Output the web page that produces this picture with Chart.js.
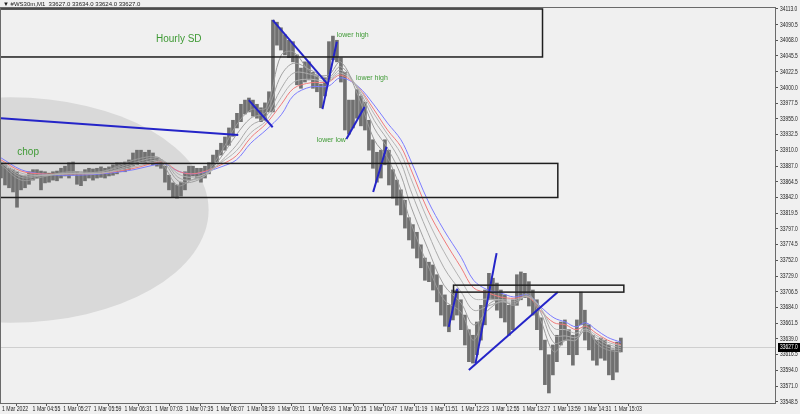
<!DOCTYPE html>
<html>
<head>
<meta charset="utf-8">
<style>
    html, body { margin: 0; padding: 0; background: #f0f0f0; overflow: hidden; }
    #wrap { position: relative; width: 800px; height: 414px; }
</style>
<script src="https://cdn.jsdelivr.net/npm/chart.js@4.4.0/dist/chart.umd.min.js"></script>
</head>
<body>
<div id="wrap"><canvas id="chart" width="800" height="414"></canvas></div>
<script>
(function() {
    'use strict';

    // Price bars, minutes from 04:23
    var BAR_STEP = 4.18;
    var barHighs = [
        33892,33889,33884,33882,33879,33874,33873,33879,33882,33882,
        33880,33879,33877,33879,33880,33884,33887,33892,33893,33879,
        33876,33882,33884,33883,33884,33886,33884,33886,33889,33892,
        33892,33893,33896,33906,33910,33910,33907,33910,33906,33899,
        33896,33887,33874,33863,33860,33864,33879,33887,33887,33884,
        33884,33887,33892,33903,33910,33920,33929,33942,33953,33963,
        33976,33982,33985,33982,33976,33971,33978,33994,34097,34094,
        34086,34076,34068,34066,34047,34028,34037,34037,34022,34017,
        34005,34014,34066,34074,34068,34043,34022,33982,33982,33997,
        33988,33979,33953,33925,33907,33910,33925,33910,33882,33867,
        33853,33838,33813,33803,33792,33774,33755,33749,33745,33731,
        33716,33702,33687,33709,33709,33695,33673,33652,33644,33663,
        33687,33709,33733,33726,33719,33709,33702,33687,33695,33731,
        33735,33733,33721,33709,33695,33669,33637,33616,33630,33644,
        33663,33666,33652,33644,33666,33706,33680,33659,33644,33637,
        33640,33637,33630,33623,33634,33640
    ];
    var barLows = [
        33870,33860,33856,33850,33828,33853,33856,33861,33867,33870,
        33853,33863,33864,33867,33866,33870,33873,33870,33874,33861,
        33859,33866,33870,33867,33870,33871,33870,33873,33874,33876,
        33879,33879,33882,33887,33889,33893,33890,33893,33889,33887,
        33884,33864,33853,33843,33841,33844,33853,33867,33873,33870,
        33864,33870,33876,33884,33893,33903,33910,33917,33930,33942,
        33951,33962,33965,33959,33956,33951,33953,33965,33965,34061,
        34054,34047,34043,34037,34004,33999,34008,34011,33999,33994,
        33971,33988,34011,34040,34037,34008,33939,33933,33942,33956,
        33945,33939,33910,33884,33864,33870,33889,33860,33841,33831,
        33817,33798,33781,33769,33755,33741,33723,33721,33709,33692,
        33673,33657,33649,33666,33673,33652,33630,33606,33604,33616,
        33637,33659,33695,33695,33680,33669,33663,33644,33652,33687,
        33695,33698,33686,33673,33652,33623,33573,33561,33587,33606,
        33630,33637,33616,33601,33616,33659,33637,33623,33608,33601,
        33611,33608,33587,33580,33591,33620
    ];

    // Moving average ribbon (minutes from 04:23)
    var maTimes = [0,21,42,70,105,139,164,172,185,199,214,230,246,261,277,293,306,324,342,355,
                   373,390,404,418,428,446,463,481,494,509,522,536,551,564,578,590,601,611,622,634,648];
    var maBlue = [33899,33882,33876,33874,33876,33882,33890,33890,33880,33876,33879,33886,33896,33920,33939,
                  33961,33989,34001,34002,34014,34002,33975,33949,33925,33896,33838,33795,33756,33723,33709,
                  33705,33699,33702,33685,33669,33663,33656,33662,33652,33641,33634];
    var maRed = [33896,33880,33876,33876,33877,33884,33893,33892,33880,33876,33880,33889,33902,33928,33948,
                 33976,33999,34007,34008,34018,34001,33968,33939,33915,33884,33824,33781,33741,33712,33705,
                 33699,33697,33699,33679,33662,33659,33652,33657,33647,33637,33630];
    var maGray1 = [33889,33867,33871,33879,33879,33896,33900,33884,33859,33867,33877,33907,33946,33968,33971,
                   34047,34051,34022,34018,34037,33989,33925,33899,33853,33807,33745,33695,33677,33637,33687,
                   33695,33687,33705,33666,33620,33637,33637,33659,33633,33623,33620];
    var maGray2 = [33892,33871,33873,33877,33879,33892,33899,33890,33866,33864,33874,33900,33932,33956,33965,
                   34018,34035,34025,34014,34030,33997,33942,33913,33874,33831,33769,33716,33690,33659,33680,
                   33692,33689,33702,33677,33633,33637,33637,33652,33637,33627,33623];
    var maGray3 = [33893,33874,33874,33877,33877,33889,33896,33893,33871,33867,33874,33894,33917,33945,33958,
                   33999,34021,34019,34011,34025,33999,33953,33925,33892,33853,33792,33741,33706,33680,33686,
                   33692,33692,33700,33683,33644,33643,33641,33650,33641,33631,33626];
    var maGray4 = [33894,33877,33874,33876,33877,33886,33894,33893,33876,33871,33876,33892,33909,33935,33952,
                   33986,34008,34012,34009,34021,34001,33962,33933,33905,33871,33810,33764,33723,33697,33696,
                   33695,33695,33699,33683,33654,33652,33647,33653,33644,33634,33629];

    // Axis labels
    var yTicks = [34113.0,34090.5,34068.0,34045.5,34022.5,34000.0,33977.5,33955.0,33932.5,33910.0,33887.0,
                  33864.5,33842.0,33819.5,33797.0,33774.5,33752.0,33729.0,33706.5,33684.0,33661.5,33639.0,
                  33616.5,33594.0,33571.0,33548.5];
    var timeLabels = ['1 Mar 2022','1 Mar 04:55','1 Mar 05:27','1 Mar 05:59','1 Mar 06:31','1 Mar 07:03',
                      '1 Mar 07:35','1 Mar 08:07','1 Mar 08:39','1 Mar 09:11','1 Mar 09:43','1 Mar 10:15',
                      '1 Mar 10:47','1 Mar 11:19','1 Mar 11:51','1 Mar 12:23','1 Mar 12:55','1 Mar 13:27',
                      '1 Mar 13:59','1 Mar 14:31','1 Mar 15:03'];
    var LABEL_STEP = 32;
    var titleText = '\u25BC #WS30m,M1  33627.0 33634.0 33624.0 33627.0';
    var lastPrice = 33627.0;

    // Drawn objects: [t1, p1, t2, p2]
    var trendLines = [
        [0, 33956, 248, 33932],
        [259, 33982, 284, 33943],
        [284, 34097, 342, 34004],
        [336, 33969, 351, 34066],
        [361, 33926, 380, 33972],
        [389, 33850, 403, 33915],
        [468, 33656, 477, 33711],
        [496, 33604, 518, 33762],
        [489, 33594, 582, 33706]
    ];
    // [t1, t2, priceTop, priceBottom]
    var zones = [
        [-10, 566, 34113, 34044],
        [-10, 582, 33891, 33842],
        [473, 651, 33716, 33706]
    ];
    // [text, t, price]
    var bigNotes = [['Hourly SD', 162, 34069], ['chop', 17, 33907]];
    var smallNotes = [['lower high', 351, 34076], ['lower high', 371, 34014], ['lower low', 330, 33924]];
    // [t, price, radius t, radius price]
    var chopEllipse = [10, 33824, 207, 162];

    var GREEN = '#3f9a35';
    var AXIS_FONT = '7px "Liberation Sans", Arial, sans-serif';

    var bars = barHighs.map(function(h, i) {
        return { x: i * BAR_STEP, y: [barLows[i], h] };
    });

    function maSeries(values) {
        return values.map(function(v, i) { return { x: maTimes[i], y: v }; });
    }

    function maDataset(values, color) {
        return {
            type: 'line',
            data: maSeries(values),
            borderColor: color,
            borderWidth: 1,
            pointRadius: 0,
            tension: 0.35,
            order: 2
        };
    }

    // Narrow pixel-like axis text
    function narrowText(ctx, text, x, y, squeeze) {
        ctx.save();
        ctx.translate(x, y);
        ctx.scale(squeeze, 1);
        ctx.fillText(text, 0, 0);
        ctx.restore();
    }

    var datasets = [{
        type: 'bar',
        data: bars,
        backgroundColor: '#707070',
        barThickness: 3,
        grouped: false,
        order: 5
    }];

    datasets.push(maDataset(maGray4, '#b4b4b4'));
    datasets.push(maDataset(maGray3, '#aaaaaa'));
    datasets.push(maDataset(maGray2, '#a0a0a0'));
    datasets.push(maDataset(maGray1, '#999999'));
    datasets.push(maDataset(maRed, '#f07a7a'));
    datasets.push(maDataset(maBlue, '#7c7cff'));

    trendLines.forEach(function(l) {
        datasets.push({
            type: 'line',
            data: [{ x: l[0], y: l[1] }, { x: l[2], y: l[3] }],
            borderColor: '#2424c8',
            borderWidth: 2,
            pointRadius: 0,
            tension: 0,
            order: 1
        });
    });

    // Background drawings (ellipse, price line)
    var backPlugin = {
        id: 'back',
        beforeDatasetsDraw: function(chart) {
            var ctx = chart.ctx, a = chart.chartArea;
            var xs = chart.scales.x, ys = chart.scales.y;
            ctx.save();
            ctx.beginPath();
            ctx.rect(a.left, a.top, a.right - a.left, a.bottom - a.top);
            ctx.clip();

            var cx = xs.getPixelForValue(chopEllipse[0]);
            var cy = ys.getPixelForValue(chopEllipse[1]);
            var rx = xs.getPixelForValue(chopEllipse[0] + chopEllipse[2]) - cx;
            var ry = cy - ys.getPixelForValue(chopEllipse[1] + chopEllipse[3]);
            ctx.fillStyle = '#d9d9d9';
            ctx.beginPath();
            ctx.ellipse(cx, cy, rx, ry, 0, 0, Math.PI * 2);
            ctx.fill();

            var py = Math.round(ys.getPixelForValue(lastPrice)) + 0.5;
            ctx.strokeStyle = '#cfcfcf';
            ctx.lineWidth = 1;
            ctx.beginPath();
            ctx.moveTo(a.left, py);
            ctx.lineTo(a.right, py);
            ctx.stroke();
            ctx.restore();
        }
    };

    // Foreground drawings (zones, notes, frame, axis text, price tag, title)
    var frontPlugin = {
        id: 'front',
        afterDatasetsDraw: function(chart) {
            var ctx = chart.ctx, a = chart.chartArea;
            var xs = chart.scales.x, ys = chart.scales.y;
            ctx.save();
            ctx.beginPath();
            ctx.rect(a.left, a.top, a.right - a.left, a.bottom - a.top);
            ctx.clip();

            ctx.strokeStyle = '#1e1e1e';
            ctx.lineWidth = 1.5;
            zones.forEach(function(z) {
                var x1 = xs.getPixelForValue(z[0]), x2 = xs.getPixelForValue(z[1]);
                var y1 = ys.getPixelForValue(z[2]), y2 = ys.getPixelForValue(z[3]);
                ctx.strokeRect(x1, y1, x2 - x1, y2 - y1);
            });

            ctx.fillStyle = GREEN;
            ctx.textAlign = 'left';
            ctx.textBaseline = 'middle';
            ctx.font = '10px "Liberation Sans", Arial, sans-serif';
            bigNotes.forEach(function(n) {
                ctx.fillText(n[0], xs.getPixelForValue(n[1]), ys.getPixelForValue(n[2]));
            });
            ctx.font = '7px "Liberation Sans", Arial, sans-serif';
            smallNotes.forEach(function(n) {
                ctx.fillText(n[0], xs.getPixelForValue(n[1]), ys.getPixelForValue(n[2]));
            });
            ctx.restore();
        },
        afterDraw: function(chart) {
            var ctx = chart.ctx, a = chart.chartArea;
            var xs = chart.scales.x, ys = chart.scales.y;
            ctx.save();
            ctx.strokeStyle = '#6a6a6a';
            ctx.lineWidth = 1;
            ctx.strokeRect(a.left - 0.5, a.top - 0.5, a.right - a.left + 1, a.bottom - a.top + 1);

            // axis labels
            ctx.fillStyle = '#222222';
            ctx.font = AXIS_FONT;
            ctx.textAlign = 'left';
            ctx.textBaseline = 'middle';
            xs.ticks.forEach(function(t) {
                var label = timeLabels[Math.round(t.value / LABEL_STEP)];
                narrowText(ctx, label, xs.getPixelForValue(t.value) + 1, a.bottom + 6.5, 0.74);
            });
            ys.ticks.forEach(function(t) {
                narrowText(ctx, t.value.toFixed(1), a.right + 5, ys.getPixelForValue(t.value), 0.7);
            });

            // last price tag
            var py = Math.round(ys.getPixelForValue(lastPrice));
            ctx.fillStyle = '#000000';
            ctx.fillRect(a.right + 3, py - 4, 800 - a.right - 3, 9);
            ctx.fillStyle = '#ffffff';
            narrowText(ctx, lastPrice.toFixed(1), a.right + 5, py + 0.5, 0.7);

            ctx.fillStyle = '#202020';
            ctx.font = '6px "Liberation Sans", Arial, sans-serif';
            ctx.fillText(titleText, 3, 4);
            ctx.restore();
        }
    };

    new Chart(document.getElementById('chart'), {
        type: 'bar',
        data: { datasets: datasets },
        plugins: [backPlugin, frontPlugin],
        options: {
            responsive: false,
            animation: false,
            devicePixelRatio: 1,
            events: [],
            layout: { padding: { top: 8, left: 1, right: 0, bottom: 0 } },
            plugins: { legend: { display: false }, tooltip: { enabled: false } },
            scales: {
                x: {
                    type: 'linear',
                    min: 0,
                    max: 809,
                    offset: false,
                    afterFit: function(s) { s.height = 11; },
                    afterBuildTicks: function(s) {
                        s.ticks = timeLabels.map(function(t, i) { return { value: i * LABEL_STEP }; });
                    },
                    grid: { drawOnChartArea: false, tickLength: 3, color: '#555555' },
                    border: { color: '#555555' },
                    ticks: { display: false, autoSkip: false }
                },
                y: {
                    type: 'linear',
                    position: 'right',
                    min: 33546.6,
                    max: 34114.4,
                    afterFit: function(s) { s.width = 25; },
                    afterBuildTicks: function(s) {
                        s.ticks = yTicks.map(function(v) { return { value: v }; });
                    },
                    grid: { drawOnChartArea: false, tickLength: 3, color: '#555555' },
                    border: { color: '#555555' },
                    ticks: { display: false }
                }
            }
        }
    });
})();
</script>
</body>
</html>
